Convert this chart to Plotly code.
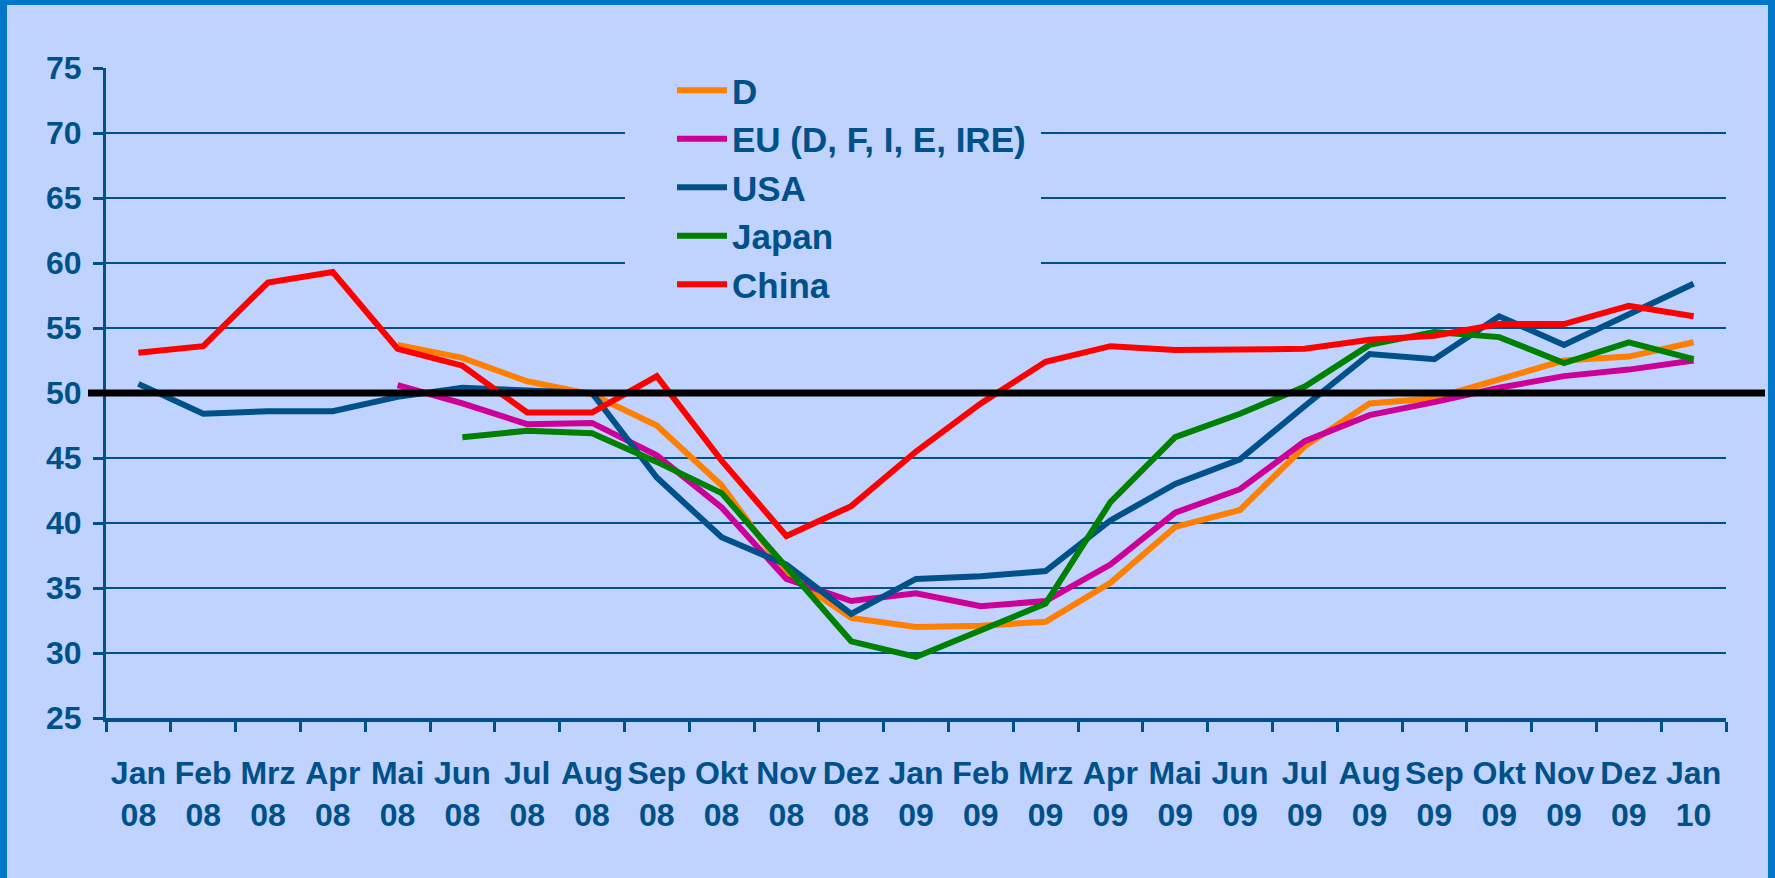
import plotly.graph_objects as go

# ---------------- data ----------------
months = ["Jan", "Feb", "Mrz", "Apr", "Mai", "Jun", "Jul", "Aug", "Sep", "Okt", "Nov", "Dez",
          "Jan", "Feb", "Mrz", "Apr", "Mai", "Jun", "Jul", "Aug", "Sep", "Okt", "Nov", "Dez", "Jan"]
years = ["08"] * 12 + ["09"] * 12 + ["10"]

N = None
d_values = [N, N, N, N, 53.7, 52.7, 50.9, 49.9, 47.5, 42.9, 36.1, 32.7,
            32.0, 32.1, 32.4, 35.4, 39.7, 41.0, 45.9, 49.2, 49.6, 51.0, 52.5, 52.8, 53.9]
eu_values = [N, N, N, N, 50.6, 49.2, 47.6, 47.7, 45.2, 41.2, 35.7, 34.0,
             34.6, 33.6, 34.0, 36.8, 40.8, 42.6, 46.3, 48.3, 49.3, 50.4, 51.3, 51.8, 52.5]
usa_values = [50.7, 48.4, 48.6, 48.6, 49.7, 50.4, 50.2, 50.0, 43.5, 38.9, 36.8, 33.0,
              35.7, 35.9, 36.3, 40.2, 43.0, 44.9, 49.0, 53.0, 52.6, 55.9, 53.7, 56.0, 58.4]
japan_values = [N, N, N, N, N, 46.6, 47.1, 46.9, 44.7, 42.3, 36.6, 30.9,
                29.7, 31.7, 33.8, 41.6, 46.6, 48.4, 50.5, 53.7, 54.7, 54.3, 52.3, 53.9, 52.6]
china_values = [53.1, 53.6, 58.5, 59.3, 53.4, 52.1, 48.5, 48.5, 51.3, 44.8, 39.0, 41.3,
                45.5, 49.2, 52.4, 53.6, 53.3, 53.3, 53.4, 54.1, 54.4, 55.3, 55.3, 56.7, 55.9]

series_names = ["D", "EU (D, F, I, E, IRE)", "USA", "Japan", "China"]
series_values = [d_values, eu_values, usa_values, japan_values, china_values]
threshold = 50

# ---------------- style ----------------
series_colors = ["#FF7F00", "#CC0099", "#00508A", "#008000", "#FF0000"]
BG = "#BFD3FE"
BORDER = "#0077C8"
INK = "#00508A"
FONT = "Liberation Sans Narrow, Arial Narrow, Liberation Sans, Arial, sans-serif"

W, H = 1775, 878
L, R, T, B = 106, 1726, 68, 718


def px_x(p):
    return (p - L) / (R - L)


def px_y(p):
    return (B - p) / (B - T)


categories = [f"{m}<br>{y}" for m, y in zip(months, years)]

fig = go.Figure()
for name, vals, col in zip(series_names, series_values, series_colors):
    fig.add_trace(go.Scatter(
        x=categories, y=vals, name=name, mode="lines",
        line=dict(color=col, width=6), connectgaps=False,
    ))

shapes = [
    # legend mask (hides gridlines behind the legend)
    dict(type="rect", xref="paper", yref="paper", layer="above",
         x0=px_x(625), x1=px_x(1041), y0=px_y(305), y1=px_y(61),
         fillcolor=BG, line=dict(width=0)),
    # 50 reference line
    dict(type="line", xref="paper", yref="y", layer="above",
         x0=px_x(88), x1=px_x(1765), y0=threshold, y1=threshold,
         line=dict(color="black", width=7)),
    # frame bands
    dict(type="rect", xref="paper", yref="paper", layer="above",
         x0=px_x(-20), x1=px_x(7), y0=px_y(900), y1=px_y(-20),
         fillcolor=BORDER, line=dict(width=0)),
    dict(type="rect", xref="paper", yref="paper", layer="above",
         x0=px_x(-20), x1=px_x(1800), y0=px_y(5), y1=px_y(-20),
         fillcolor=BORDER, line=dict(width=0)),
    dict(type="rect", xref="paper", yref="paper", layer="above",
         x0=px_x(1768), x1=px_x(1800), y0=px_y(900), y1=px_y(-20),
         fillcolor=BORDER, line=dict(width=0)),
]

fig.update_layout(
    width=W, height=H,
    margin=dict(l=L, r=W - R, t=T, b=H - B, pad=0),
    paper_bgcolor=BG, plot_bgcolor=BG,
    font=dict(family=FONT, color=INK, size=32, weight="bold"),
    showlegend=True,
    legend=dict(
        x=px_x(672), y=px_y(61), xanchor="left", yanchor="top",
        bgcolor="rgba(0,0,0,0)", borderwidth=0,
        font=dict(family=FONT, size=35, color=INK, weight="bold"),
        itemwidth=50, tracegroupgap=0,
    ),
    shapes=shapes,
    xaxis=dict(
        type="category", range=[-0.5, len(categories) - 0.5],
        showgrid=False, zeroline=False,
        showline=True, linecolor=INK, linewidth=4,
        ticks="outside", tickson="boundaries", ticklen=10, tickwidth=3, tickcolor=INK,
        tickfont=dict(family=FONT, size=32, color=INK, weight="bold"),
        tickangle=0, ticklabelstandoff=24,
    ),
    yaxis=dict(
        range=[25, 75], dtick=5, tick0=25,
        showgrid=True, gridcolor=INK, gridwidth=2, zeroline=False,
        showline=True, linecolor=INK, linewidth=3,
        ticks="outside", ticklen=10, tickwidth=3, tickcolor=INK,
        tickfont=dict(family=FONT, size=32, color=INK, weight="bold"),
        ticklabelstandoff=5,
    ),
)

fig.write_html(
    "out.html",
    config={"displayModeBar": False},
    post_script="document.body.style.margin='0';document.body.style.overflow='hidden';",
)
